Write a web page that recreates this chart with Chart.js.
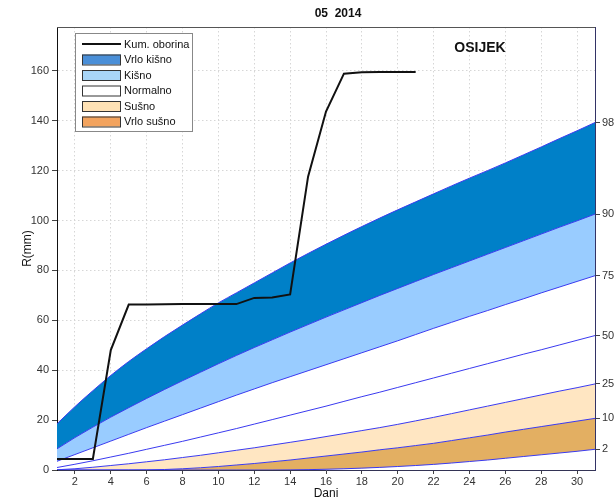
<!DOCTYPE html>
<html>
<head>
<meta charset="utf-8">
<script src="https://cdn.jsdelivr.net/npm/chart.js@4.4.1/dist/chart.umd.min.js"></script>
<style>
html,body{margin:0;padding:0;background:#fff;}
#wrap{width:614px;height:499px;}
canvas{display:block;}
</style>
</head>
<body>
<div id="wrap"><canvas id="c" width="614" height="499"></canvas></div>
<script>
// ---- data ----
const titleText = '05  2014';
const stationName = 'OSIJEK';
const days = [1,2,3,4,5,6,7,8,9,10,11,12,13,14,15,16,17,18,19,20,21,22,23,24,25,26,27,28,29,30,31];
const xTicks = [2,4,6,8,10,12,14,16,18,20,22,24,26,28,30];
const yTicks = [0,20,40,60,80,100,120,140,160];

// cumulative precipitation (mm), days 1..21
const kumOborina = [4.4,4.4,4.4,48.1,66.3,66.3,66.4,66.5,66.5,66.5,66.5,69.0,69.2,70.4,117.6,143.7,158.9,159.5,159.6,159.6,159.6,
  null,null,null,null,null,null,null,null,null,null];

// percentile curves of cumulative precipitation (mm)
const p98 = [18.5,25.4,31.8,37.9,43.5,48.6,53.5,58.1,62.6,67.0,71.0,75.0,79.0,83.0,86.8,90.5,94.1,97.6,101.0,104.3,107.5,110.7,113.9,117.0,120.0,123.1,126.3,129.5,132.8,136.0,139.3];
const p90 = [8.5,13.0,17.2,21.2,25.0,28.7,32.3,35.8,39.2,42.6,45.9,49.1,52.2,55.3,58.3,61.3,64.2,67.1,70.0,72.8,75.6,78.4,81.1,83.8,86.5,89.2,91.9,94.6,97.3,99.9,102.6];
const p75 = [3.5,6.2,8.9,11.6,14.3,17.0,19.6,22.2,24.8,27.4,30.0,32.5,35.0,37.4,39.8,42.2,44.6,47.0,49.4,51.8,54.3,56.8,59.2,61.6,63.9,66.3,68.6,71.0,73.3,75.6,77.9];
const p50 = [1.0,2.3,3.7,5.2,6.7,8.3,9.9,11.5,13.2,14.9,16.6,18.4,20.2,22.0,23.8,25.6,27.5,29.4,31.2,33.1,35.0,36.9,38.8,40.7,42.6,44.5,46.4,48.2,50.1,52.0,53.9];
const p25 = [0.1,0.5,1.1,1.8,2.5,3.3,4.1,5.0,5.9,6.9,7.9,8.9,10.0,11.1,12.2,13.4,14.6,15.8,17.0,18.3,19.7,21.1,22.6,24.1,25.6,27.1,28.6,30.1,31.6,33.0,34.5];
const p10 = [0,0,0,0,0,0.05,0.2,0.5,0.9,1.4,2.0,2.6,3.3,4.0,4.8,5.6,6.4,7.2,8.1,8.9,9.8,10.7,11.8,12.9,14.0,15.2,16.3,17.4,18.5,19.6,20.7];
const p2  = [0,0,0,0,0,0,0,0,0,0,0,0,0,0.05,0.15,0.3,0.5,0.75,1.05,1.4,1.8,2.25,2.8,3.4,4.0,4.7,5.4,6.1,6.8,7.5,8.3];

const percentileNames = ['98','90','75','50','25','10','2'];
const legendLabels = ['Kum. oborina','Vrlo kišno','Kišno','Normalno','Sušno','Vrlo sušno'];
const legendColors = [null,'#4a8fd8','#a8d5f7','#ffffff','#ffe2b5','#f2a35e'];

// ---- build ----
const pctSeries = [p98,p90,p75,p50,p25,p10,p2];
const lastIdx = days.length - 1;
const rightTickVals = pctSeries.map(s => s[lastIdx]);

const FONT = "'Liberation Sans', Arial, Helvetica, sans-serif";
const lineBlue = '#3a3af0';
const fillDarkBlue = '#0080c8';
const fillLightBlue = '#99ccff';
const fillLightOrange = '#ffe6c2';
const fillDarkOrange = '#e3af62';
const gridColor = '#d6d6d6';
const Y_MAX = 177.6;

function pts(arr){ return days.map((d,i)=>({x:d, y:arr[i]})); }

const pctDs = (arr, name, fill, bg) => ({
  label: name, data: pts(arr), borderColor: lineBlue, borderWidth: 1,
  pointRadius: 0, cubicInterpolationMode: 'monotone', fill: fill, backgroundColor: bg
});

const datasets = [
  { label: legendLabels[0], data: pts(kumOborina), borderColor: '#111', borderWidth: 2,
    pointRadius: 0, tension: 0, fill: false, spanGaps: false },
  pctDs(p98, percentileNames[0], '+1', fillDarkBlue),
  pctDs(p90, percentileNames[1], '+1', fillLightBlue),
  pctDs(p75, percentileNames[2], 5, '#ffffff'),
  pctDs(p50, percentileNames[3], false, 'transparent'),
  pctDs(p25, percentileNames[4], '+1', fillLightOrange),
  pctDs(p10, percentileNames[5], '+1', fillDarkOrange),
  pctDs(p2, percentileNames[6], 'origin', '#ffffff')
];

const decorPlugin = {
  id: 'decor',
  afterDatasetsDraw(chart){
    const {ctx, chartArea:a} = chart;
    ctx.save();
    ctx.strokeStyle = '#555';
    ctx.lineWidth = 1;
    ctx.beginPath();
    ctx.moveTo(a.left, a.top + 0.5);
    ctx.lineTo(a.right, a.top + 0.5);
    ctx.stroke();
    ctx.restore();
  },
  afterDraw(chart){
    const ctx = chart.ctx;
    ctx.save();
    // title
    ctx.fillStyle = '#111';
    ctx.font = 'bold 12px ' + FONT;
    ctx.textAlign = 'center';
    ctx.textBaseline = 'middle';
    ctx.fillText(titleText, 338, 14);
    // station
    ctx.font = 'bold 14px ' + FONT;
    ctx.fillText(stationName, 480, 48);
    // legend box
    const bx = 75, by = 33, bw = 117, bh = 98;
    ctx.fillStyle = '#fff';
    ctx.fillRect(bx, by, bw, bh);
    ctx.strokeStyle = '#888';
    ctx.lineWidth = 1;
    ctx.strokeRect(bx + 0.5, by + 0.5, bw, bh);
    ctx.font = '11px ' + FONT;
    ctx.textAlign = 'left';
    ctx.textBaseline = 'middle';
    legendLabels.forEach((lab, i) => {
      const cy = 44 + i * 15.5;
      if (i === 0) {
        ctx.strokeStyle = '#111';
        ctx.lineWidth = 2;
        ctx.beginPath();
        ctx.moveTo(82, cy); ctx.lineTo(121, cy);
        ctx.stroke();
      } else {
        ctx.fillStyle = legendColors[i];
        ctx.fillRect(82, cy - 5, 39, 10);
        ctx.strokeStyle = '#333';
        ctx.lineWidth = 1;
        ctx.strokeRect(82.5, cy - 4.5, 38, 10);
      }
      ctx.fillStyle = '#111';
      ctx.fillText(lab, 124, cy + 0.5);
    });
    ctx.restore();
  }
};

new Chart(document.getElementById('c'), {
  type: 'line',
  data: { datasets },
  options: {
    responsive: false,
    animation: false,
    devicePixelRatio: 1,
    layout: { padding: { top: 27, left: 0, right: 0, bottom: 0 } },
    plugins: {
      legend: { display: false },
      title: { display: false },
      tooltip: { enabled: false },
      filler: { drawTime: 'beforeDatasetsDraw', propagate: false }
    },
    scales: {
      x: {
        type: 'linear', min: 1, max: 31,
        afterBuildTicks: s => { s.ticks = xTicks.map(v => ({value: v})); },
        afterFit: s => { s.height = 29; },
        grid: { color: gridColor, lineWidth: 1, tickColor: '#444', tickLength: 4, tickBorderDash: [] },
        border: { color: '#333355', width: 1, dash: [1.5, 2.5] },
        ticks: { font: { family: FONT, size: 11 }, color: '#333', padding: 1, maxRotation: 0, autoSkip: false },
        title: { display: true, text: 'Dani', font: { family: FONT, size: 12 }, color: '#111', padding: { top: 0, bottom: -2 } }
      },
      y: {
        type: 'linear', position: 'left', min: 0, max: Y_MAX,
        afterBuildTicks: s => { s.ticks = yTicks.map(v => ({value: v})); },
        afterFit: s => { s.width = 57; },
        grid: { color: gridColor, lineWidth: 1, tickColor: '#444', tickLength: 5, tickBorderDash: [] },
        border: { color: '#111', width: 1, dash: [1.5, 2.5] },
        ticks: { font: { family: FONT, size: 11 }, color: '#333', padding: 3, autoSkip: false },
        title: { display: true, text: 'R(mm)', font: { family: FONT, size: 12 }, color: '#111', padding: { top: 20, bottom: 0 } }
      },
      y2: {
        type: 'linear', position: 'right', min: 0, max: Y_MAX,
        afterBuildTicks: s => { s.ticks = rightTickVals.map(v => ({value: v})); },
        afterFit: s => { s.width = 19; },
        grid: { drawOnChartArea: false, tickColor: '#444', tickLength: 5 },
        border: { color: '#333366', width: 1 },
        ticks: {
          font: { family: FONT, size: 11 }, color: '#333', padding: 2, autoSkip: false,
          callback: (v, i) => percentileNames[i]
        }
      }
    }
  },
  plugins: [decorPlugin]
});
</script>
</body>
</html>
